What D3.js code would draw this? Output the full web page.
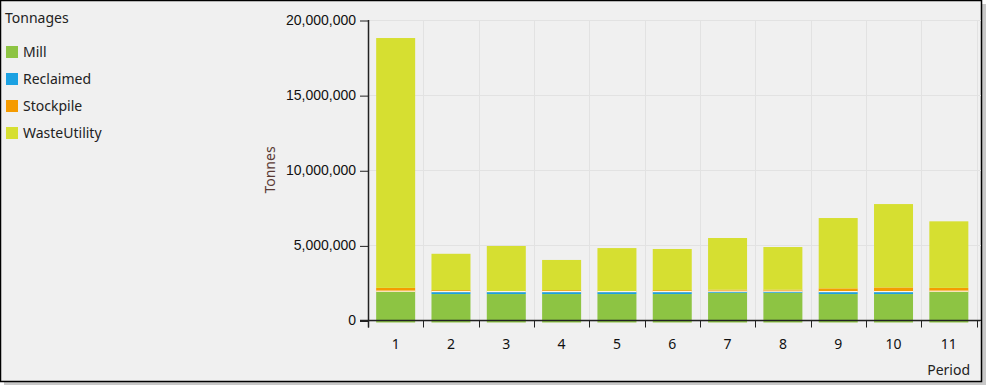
<!DOCTYPE html>
<html>
<head>
<meta charset="utf-8">
<script src="https://cdn.jsdelivr.net/npm/d3@7"></script>
<style>
    body { margin: 0; background: #ffffff; }
    svg { display: block; font-family: "Noto Sans", "Open Sans", sans-serif; }
</style>
</head>
<body>
<svg id="chart" width="988" height="388"></svg>
<script>
// Chart data
var periods     = ["1", "2", "3", "4", "5", "6", "7", "8", "9", "10", "11"];
var mill        = [1920000, 1760000, 1760000, 1760000, 1760000, 1760000, 1850000, 1850000, 1760000, 1760000, 1920000];
var reclaimed   = [0, 130000, 130000, 130000, 130000, 130000, 70000, 70000, 130000, 130000, 0];
var stockpile   = [250000, 130000, 70000, 130000, 70000, 130000, 130000, 130000, 250000, 310000, 250000];
var wasteUtility = [16630000, 2420000, 3000000, 2010000, 2860000, 2740000, 3440000, 2840000, 4680000, 5550000, 4430000];
var yTicks      = [0, 5000000, 10000000, 15000000, 20000000];

var seriesNames  = ["Mill", "Reclaimed", "Stockpile", "WasteUtility"];
var seriesColors = ["#8dc443", "#1ba1e2", "#f59b00", "#d6df31"];

function Draw() {
    var svg = d3.select("#chart");

    // Frame with drop shadow
    svg.append("rect").attr("x", 4).attr("y", 4).attr("width", 982).attr("height", 381).attr("fill", "#c8c8c8");
    svg.append("rect").attr("x", 0.5).attr("y", 0.5).attr("width", 981).attr("height", 381)
       .attr("fill", "#f0f0f0").attr("stroke", "#000").attr("stroke-width", 1.5);

    var plot = {left: 368, right: 976.5, top: 20, bottom: 320.5};

    var xScale = d3.scaleBand().domain(periods).range([plot.left, plot.right])
                   .paddingInner(0.295).paddingOuter(0.1475);
    var yScale = d3.scaleLinear().domain([0, 20000000]).range([plot.bottom, plot.top]);

    // Grid lines
    var grid = svg.append("g");
    grid.selectAll("line.h").data(yTicks).enter().append("line")
        .attr("x1", plot.left).attr("x2", 981)
        .attr("y1", function(d) { return Math.round(yScale(d)) + 0.5; })
        .attr("y2", function(d) { return Math.round(yScale(d)) + 0.5; })
        .attr("stroke", "#e2e2e2");
    var step = xScale.step();
    var xEdges = periods.map(function(p, i) { return plot.left + i * step; }).concat([plot.right]);
    grid.selectAll("line.v").data(xEdges.slice(1)).enter().append("line")
        .attr("x1", function(d) { return Math.round(d) + 0.5; })
        .attr("x2", function(d) { return Math.round(d) + 0.5; })
        .attr("y1", plot.top).attr("y2", plot.bottom)
        .attr("stroke", "#e2e2e2");

    // Stacked bars
    var table = periods.map(function(p, i) {
        return {period: p, Mill: mill[i], Reclaimed: reclaimed[i], Stockpile: stockpile[i], WasteUtility: wasteUtility[i]};
    });
    var stacked = d3.stack().keys(seriesNames)(table);

    svg.append("g").selectAll("g").data(stacked).enter().append("g")
       .attr("fill", function(d, i) { return seriesColors[i]; })
       .selectAll("rect").data(function(d) { return d; }).enter().append("rect")
         .attr("x", function(d) { return xScale(d.data.period); })
         .attr("width", xScale.bandwidth())
         .attr("y", function(d) { return yScale(d[1]); })
         .attr("height", function(d) { return Math.max(0, yScale(d[0]) - yScale(d[1])) + (d[0] === 0 ? 2 : 0); });

    // thin white separator under the stockpile layer
    svg.append("g").selectAll("line").data(stacked[2]).enter().append("line")
       .attr("x1", function(d) { return xScale(d.data.period); })
       .attr("x2", function(d) { return xScale(d.data.period) + xScale.bandwidth(); })
       .attr("y1", function(d) { return yScale(d[0]) - 0.5; })
       .attr("y2", function(d) { return yScale(d[0]) - 0.5; })
       .attr("stroke", "#ffffff").attr("stroke-width", 1);

    // Y axis
    var yAxis = svg.append("g")
       .attr("transform", "translate(" + plot.left + ",0)")
       .call(d3.axisLeft(yScale).tickValues(yTicks).tickSize(8).tickSizeOuter(0)
             .tickFormat(d3.format(",")));
    yAxis.select(".domain").attr("d", "M0.5," + plot.top + "V" + (plot.bottom + 7)).attr("stroke", "#222").attr("stroke-width", 1.5);
    yAxis.selectAll(".tick line").attr("stroke", "#222").attr("transform", "translate(0,0.5)");
    yAxis.selectAll(".tick text").attr("x", -12).style("font-size", "14px").attr("fill", "#111");

    // X axis
    var xAxis = svg.append("g")
       .attr("transform", "translate(0," + plot.bottom + ")");
    xAxis.append("line").attr("x1", plot.left - 8).attr("x2", 981).attr("y1", 0).attr("y2", 0)
         .attr("stroke", "#222").attr("stroke-width", 1.5);
    xAxis.selectAll("line.tk").data(xEdges).enter().append("line")
         .attr("x1", function(d) { return Math.round(d) + 0.5; })
         .attr("x2", function(d) { return Math.round(d) + 0.5; })
         .attr("y1", 0).attr("y2", 7).attr("stroke", "#222");
    xAxis.selectAll("text").data(periods).enter().append("text")
         .attr("x", function(d) { return xScale(d) + xScale.bandwidth() / 2; })
         .attr("y", 28)
         .attr("text-anchor", "middle")
         .style("font-size", "14px").attr("fill", "#111")
         .text(function(d) { return d; });

    // Axis titles
    svg.append("text")
       .attr("transform", "translate(275,170) rotate(-90)")
       .attr("text-anchor", "middle")
       .style("font-size", "14px").attr("fill", "#5a3a34")
       .text("Tonnes");
    svg.append("text")
       .attr("x", 970).attr("y", 375)
       .attr("text-anchor", "end")
       .style("font-size", "14px").attr("fill", "#222")
       .text("Period");

    // Legend
    svg.append("text")
       .attr("x", 5).attr("y", 23)
       .style("font-size", "14px").attr("fill", "#222")
       .text("Tonnages");
    var legend = svg.append("g").selectAll("g").data(seriesNames).enter().append("g")
       .attr("transform", function(d, i) { return "translate(6," + (46 + i * 27) + ")"; });
    legend.append("rect").attr("width", 12).attr("height", 12)
       .attr("fill", function(d, i) { return seriesColors[i]; });
    legend.append("text").attr("x", 17).attr("y", 11)
       .style("font-size", "14px").attr("fill", "#222")
       .text(function(d) { return d; });
}

Draw();
</script>
</body>
</html>
